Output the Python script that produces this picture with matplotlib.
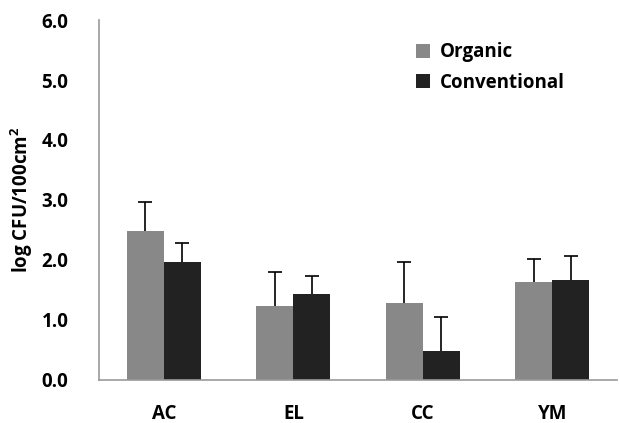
import numpy as np
import matplotlib.pyplot as plt

plt.rcParams['font.family'] = ['Open Sans', 'DejaVu Sans']
plt.rcParams['font.weight'] = 'bold'
plt.rcParams['mathtext.default'] = 'regular'

categories = ['AC', 'EL', 'CC', 'YM']
organic = [2.48, 1.23, 1.29, 1.64]
organic_err = [0.49, 0.57, 0.67, 0.38]
conventional = [1.97, 1.44, 0.48, 1.66]
conventional_err = [0.32, 0.29, 0.57, 0.40]

fig = plt.figure(figsize=(6.19, 4.23), dpi=100)
ax = fig.add_axes([0.16, 0.1017, 0.837, 0.851])

x = np.arange(len(categories))
w = 0.285
err_style = dict(ecolor='black', elinewidth=1.2, capsize=5, capthick=1.2)

b1 = ax.bar(x - w/2, organic, w, color='#888888', label='Organic',
            yerr=[np.zeros(4), organic_err], error_kw=err_style)
b2 = ax.bar(x + w/2, conventional, w, color='#222222', label='Conventional',
            yerr=[np.zeros(4), conventional_err], error_kw=err_style)
# only the upper half of each error bar gets a cap
for b in (b1, b2):
    b.errorbar.lines[1][0].set_visible(False)

ax.set_xlim(-0.5, 3.5)
ax.set_ylim(0, 6)
ticks = np.arange(0, 6.1, 1.0)
ax.set_yticks(ticks)
ax.set_yticklabels(['%.1f' % v for v in ticks], fontsize=13.5, fontweight='bold')
ax.set_xticks(x)
ax.set_xticklabels(categories, fontsize=13.5, fontweight='bold')
ax.tick_params(axis='both', length=0)
ax.tick_params(axis='y', pad=22)
ax.tick_params(axis='x', pad=17)

for side in ['top', 'right']:
    ax.spines[side].set_visible(False)
for side in ['left', 'bottom']:
    ax.spines[side].set_color('#999999')
    ax.spines[side].set_linewidth(1.2)

ax.set_ylabel('log CFU/100cm$^{2}$', fontsize=13.5, fontweight='bold', labelpad=5)

leg = ax.legend(loc='upper left', bbox_to_anchor=(0.58, 0.985), frameon=False,
                fontsize=13.5, handlelength=0.75, handleheight=0.75, handletextpad=0.5,
                labelspacing=0.55)
for t in leg.get_texts():
    t.set_fontweight('bold')

fig.savefig('out.png', dpi=100)
